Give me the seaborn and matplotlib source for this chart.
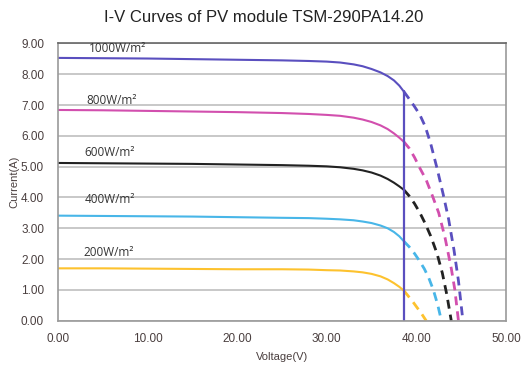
import matplotlib
matplotlib.use("Agg")
import matplotlib.pyplot as plt
import numpy as np
import pandas as pd
import seaborn as sns

# irradiance levels, colours
levels = ["1000W/m²", "800W/m²", "600W/m²", "400W/m²", "200W/m²"]
colors = ["#5a4fbf", "#d24fae", "#222222", "#48b6e8", "#fdc22e"]

# voltages of the read points on the solid part (up to the vertical line)
v_solid = [0, 5, 10, 15, 20, 25, 28, 30, 31.5, 33, 34, 35, 36, 36.8, 37.5, 38.1, 38.6]

i_solid_1000 = [8.53, 8.52, 8.51, 8.49, 8.47, 8.45, 8.43, 8.41, 8.38, 8.32, 8.26, 8.17, 8.06, 7.94, 7.80, 7.63, 7.44]
v_dash_1000 = [38.6, 39.2, 39.8, 40.4, 41.0, 41.6, 42.3, 43.0, 43.6, 44.2, 44.7, 45.2]
i_dash_1000 = [7.44, 7.20, 6.95, 6.68, 6.30, 5.75, 4.96, 4.10, 3.30, 2.30, 1.30, 0.0]

i_solid_800 = [6.84, 6.83, 6.81, 6.79, 6.77, 6.74, 6.71, 6.68, 6.65, 6.59, 6.53, 6.45, 6.34, 6.22, 6.08, 5.94, 5.81]
v_dash_800 = [38.6, 39.2, 39.8, 40.4, 41.1, 41.8, 42.5, 43.2, 43.9, 44.3, 44.7]
i_dash_800 = [5.81, 5.60, 5.30, 4.95, 4.57, 4.05, 3.50, 2.70, 1.70, 1.00, 0.0]

i_solid_600 = [5.12, 5.11, 5.10, 5.09, 5.07, 5.05, 5.03, 5.01, 4.98, 4.93, 4.88, 4.81, 4.71, 4.60, 4.48, 4.36, 4.25]
v_dash_600 = [38.6, 39.2, 39.8, 40.4, 41.0, 41.6, 42.3, 42.9, 43.4, 43.9]
i_dash_600 = [4.25, 4.05, 3.80, 3.50, 3.15, 2.75, 2.19, 1.55, 0.85, 0.0]

i_solid_400 = [3.41, 3.40, 3.39, 3.38, 3.36, 3.34, 3.33, 3.31, 3.29, 3.26, 3.22, 3.17, 3.09, 3.00, 2.88, 2.74, 2.58]
v_dash_400 = [38.6, 39.2, 39.8, 40.4, 40.9, 41.4, 41.9, 42.4, 42.8]
i_dash_400 = [2.58, 2.40, 2.18, 1.92, 1.68, 1.38, 1.00, 0.50, 0.0]

i_solid_200 = [1.70, 1.70, 1.69, 1.68, 1.67, 1.67, 1.66, 1.64, 1.63, 1.60, 1.57, 1.52, 1.44, 1.34, 1.22, 1.10, 0.98]
v_dash_200 = [38.6, 39.1, 39.6, 40.1, 40.6, 41.1]
i_dash_200 = [0.98, 0.80, 0.62, 0.42, 0.22, 0.0]

# label anchor points
label_v = [3.4, 3.2, 3.0, 3.0, 2.8]
label_i = [8.84, 7.16, 5.47, 3.95, 2.22]

v_cut = 38.6
x_ticks = [0, 10, 20, 30, 40, 50]
y_ticks = [0, 1, 2, 3, 4, 5, 6, 7, 8, 9]

solid = [i_solid_1000, i_solid_800, i_solid_600, i_solid_400, i_solid_200]
dashed = [(v_dash_1000, i_dash_1000), (v_dash_800, i_dash_800), (v_dash_600, i_dash_600),
          (v_dash_400, i_dash_400), (v_dash_200, i_dash_200)]

sns.set_style("white")
plt.rcParams['font.family'] = ['Liberation Sans', 'DejaVu Sans']

fig = plt.figure(figsize=(5.27, 3.68), dpi=100)
ax = fig.add_axes([0.110, 0.1285, 0.850, 0.7535])

for k in range(len(levels)):
    sns.lineplot(x=v_solid, y=solid[k], ax=ax, color=colors[k], lw=1.5, sort=False, estimator=None)
    vd, cd = dashed[k]
    sns.lineplot(x=vd, y=cd, ax=ax, color=colors[k], lw=2.0, sort=False, estimator=None,
                 linestyle=(0, (3.2, 2.2)))
    ax.text(label_v[k], label_i[k], levels[k], fontsize=8.5, color="#333333",
            family=['Open Sans', 'DejaVu Sans'], va='center', ha='left')

# vertical line at the cut voltage
ax.plot([v_cut, v_cut], [0, i_solid_1000[-1]], color=colors[0], lw=1.6)

ax.set_xlim(0, 50)
ax.set_ylim(0, 9)
ax.set_xticks(x_ticks)
ax.set_yticks(y_ticks)
ax.set_xticklabels([f"{t:.2f}" for t in x_ticks])
ax.set_yticklabels([f"{t:.2f}" for t in y_ticks])
ax.tick_params(axis='both', length=0, labelsize=8.5, colors="#4a3f3f")
ax.tick_params(axis='x', pad=9)
ax.tick_params(axis='y', pad=10)
ax.yaxis.grid(True, color="#c4c4c4", lw=1.3)
ax.xaxis.grid(False)
ax.set_axisbelow(True)
for side in ["left", "bottom", "right"]:
    ax.spines[side].set_color("#9a9a9a")
    ax.spines[side].set_linewidth(1.2)
ax.spines["top"].set_color("#666666")
ax.spines["top"].set_linewidth(1.2)

ax.set_xlabel("Voltage(V)", fontsize=8, color="#4a3f3f", labelpad=5)
ax.set_ylabel("Current(A)", fontsize=8, color="#4a3f3f", labelpad=1)
fig.suptitle("I-V Curves of PV module TSM-290PA14.20", fontsize=12, color="#222222", y=0.972)

fig.savefig("out.png", dpi=100, facecolor="white")
